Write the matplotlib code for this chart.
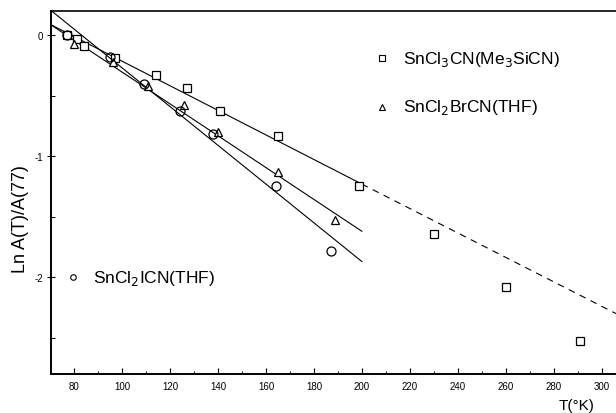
import matplotlib
matplotlib.use("Agg")
import matplotlib.pyplot as plt
from matplotlib.ticker import MultipleLocator
import numpy as np

plt.rcParams['font.family'] = ['Liberation Sans', 'DejaVu Sans']

# data (T in K, ln A(T)/A(77))
t_sq = [77, 81, 84, 97, 114, 127, 141, 165, 199, 230, 260, 291]
v_sq = [0.0, -0.03, -0.09, -0.19, -0.33, -0.44, -0.63, -0.83, -1.25, -1.64, -2.08, -2.53]

t_tri = [80, 96, 111, 126, 140, 165, 189]
v_tri = [-0.07, -0.22, -0.42, -0.58, -0.80, -1.13, -1.53]

t_circ = [77, 95, 109, 124, 138, 164, 187]
v_circ = [0.0, -0.18, -0.40, -0.63, -0.82, -1.25, -1.78]

# fitted straight lines: value at T=70 and at T=200
fit_t = [70, 200]
fit_sq = [0.09, -1.23]
fit_tri = [0.09, -1.62]
fit_circ = [0.21, -1.87]
dash_t = [200, 306]
dash_sq = [-1.23, -2.30]

fig = plt.figure(figsize=(6.16, 4.14), dpi=100)
ax = fig.add_axes([0.083, 0.094, 0.917, 0.877])

ax.plot(fit_t, fit_sq, color='black', lw=0.8)
ax.plot(fit_t, fit_tri, color='black', lw=0.8)
ax.plot(fit_t, fit_circ, color='black', lw=0.8)
ax.plot(dash_t, dash_sq, color='black', lw=0.8, dashes=(6, 5))

ax.plot(t_sq, v_sq, 's', ms=6, mfc='white', mec='black', mew=0.9)
ax.plot(t_tri, v_tri, '^', ms=6, mfc='white', mec='black', mew=0.9)
ax.plot(t_circ, v_circ, 'o', ms=6.5, mfc='none', mec='black', mew=0.9)

# legend entries written in place
ax.plot(208.5, -0.19, 's', ms=4, mfc='white', mec='black', mew=0.8)
ax.text(217, -0.19, r'SnCl$_3$CN(Me$_3$SiCN)', fontsize=12.5, va='center')
ax.plot(208.5, -0.59, '^', ms=4, mfc='white', mec='black', mew=0.8)
ax.text(217, -0.59, r'SnCl$_2$BrCN(THF)', fontsize=12.5, va='center')
ax.plot(79.5, -2.0, 'o', ms=4, mfc='white', mec='black', mew=0.8)
ax.text(88, -2.0, r'SnCl$_2$ICN(THF)', fontsize=12.5, va='center')

ax.set_xlim(70.4, 306)
ax.set_ylim(-2.8, 0.2)
ax.xaxis.set_major_locator(MultipleLocator(20))
ax.xaxis.set_minor_locator(MultipleLocator(10))
ax.yaxis.set_minor_locator(MultipleLocator(0.5))
ax.set_yticks([0, -1, -2])
ax.set_yticklabels(['0', '-1', '-2'])
ax.tick_params(axis='x', direction='in', length=4, width=0.8, labelsize=7, pad=5)
ax.tick_params(axis='x', which='minor', direction='in', length=2.5, width=0.7)
ax.tick_params(axis='y', direction='inout', length=6, width=0.8, labelsize=7, pad=3)
ax.tick_params(axis='y', which='minor', direction='in', length=3, width=0.7)

ax.spines['right'].set_visible(False)
ax.spines['left'].set_linewidth(1.4)
ax.spines['bottom'].set_linewidth(1.4)
ax.spines['top'].set_linewidth(1.2)

fig.text(21 / 616, 0.47, 'Ln A(T)/A(77)', fontsize=13, rotation=90,
         ha='center', va='center')
fig.text(577 / 616, 0.003, 'T(°K)', fontsize=11, ha='center', va='bottom')

fig.savefig('out.png', dpi=100, facecolor='white')
